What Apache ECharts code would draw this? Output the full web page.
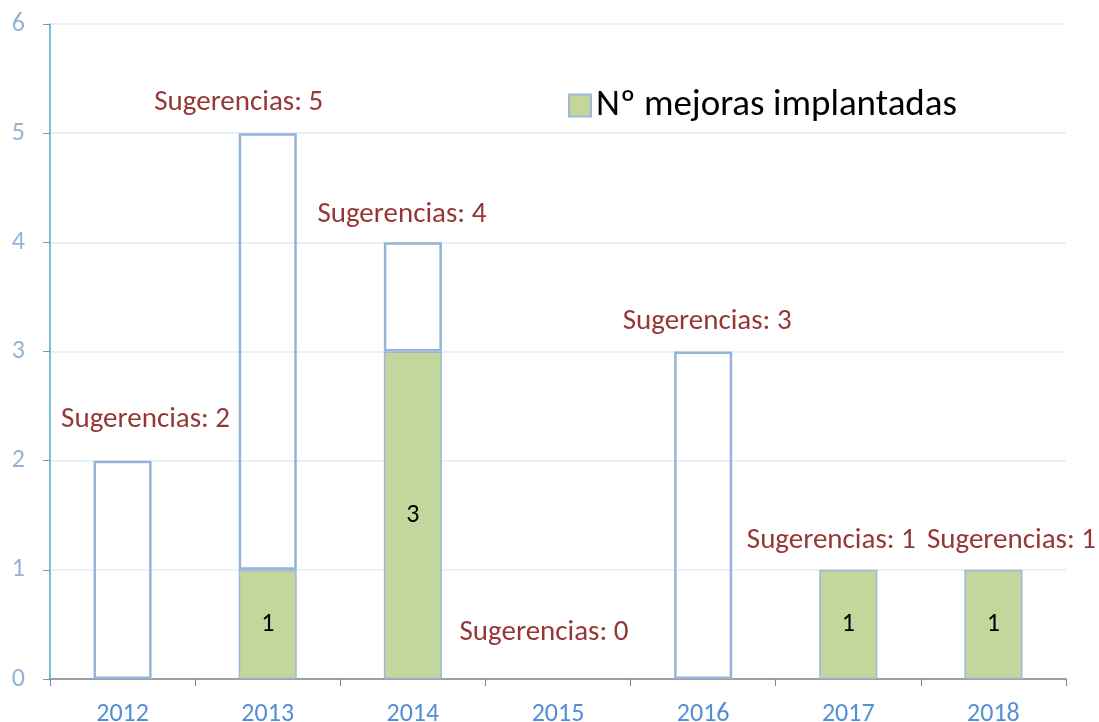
<!DOCTYPE html>
<html>
<head>
<meta charset="utf-8">
<script src="https://cdn.jsdelivr.net/npm/echarts@6/dist/echarts.min.js"></script>
<style>html,body{margin:0;padding:0;background:#fff}#c{width:1099px;height:722px}</style>
</head>
<body>
<div id="c"></div>
<script>
const years = ['2012','2013','2014','2015','2016','2017','2018'];
const sugerencias = [2, 5, 4, 0, 3, 1, 1];
const implantadas = [0, 1, 3, 0, 0, 1, 1];
const yTicks = [0, 1, 2, 3, 4, 5, 6];
const labelOffsets = [[23,-26],[-29,-15],[-11,-13],[-14,-31],[4,-15],[-17,-14],[18,-14]];

const FONT = 'Carlito, Lato, "Open Sans", sans-serif';
const remainder = sugerencias.map((s, i) => s - implantadas[i]);

const chart = echarts.init(document.getElementById('c'), null, {renderer: 'canvas'});
chart.setOption({
  animation: false,
  textStyle: {fontFamily: FONT},
  grid: {left: 50, right: 33, top: 24, bottom: 43, outerBoundsMode: 'none', containLabel: false},
  legend: {
    data: [{name: 'Nº mejoras implantadas', icon: 'rect'}],
    left: 563, top: 82,
    itemWidth: 22, itemHeight: 22, itemGap: 5,
    textStyle: {fontSize: 37, color: '#000', fontFamily: FONT}
  },
  xAxis: {
    type: 'category',
    data: years,
    axisLine: {lineStyle: {color: '#868686', width: 1.5}},
    axisTick: {show: true, length: 7, alignWithLabel: false, lineStyle: {color: '#868686'}},
    axisLabel: {color: '#558ED5', fontSize: 26, margin: 22, fontFamily: FONT}
  },
  yAxis: {
    type: 'value',
    min: yTicks[0], max: yTicks[yTicks.length - 1], interval: 1,
    axisLine: {show: true, lineStyle: {color: '#4BACC6', width: 1.5}},
    axisTick: {show: true, length: 7, lineStyle: {color: '#4BACC6'}},
    axisLabel: {color: '#95B3D7', fontSize: 26, margin: 25, fontFamily: FONT},
    splitLine: {lineStyle: {color: '#DDEFF6', width: 1.5}}
  },
  series: [
    {
      name: 'Nº mejoras implantadas',
      type: 'bar',
      stack: 'a',
      barWidth: '40%',
      data: implantadas.map(v => ({value: v, itemStyle: v === 0 ? {borderWidth: 0} : {}})),
      itemStyle: {color: '#C3D69B', borderColor: '#9DB7DB', borderWidth: 1.5},
      label: {
        show: true, position: 'inside', color: '#000', fontSize: 26, fontFamily: FONT,
        formatter: p => p.value > 0 ? String(p.value) : ''
      }
    },
    {
      name: 'Sugerencias',
      type: 'bar',
      stack: 'a',
      barWidth: '40%',
      data: remainder.map((v, i) => ({
        value: v,
        itemStyle: v === 0 ? {borderWidth: 0} : {},
        label: {offset: labelOffsets[i]}
      })),
      itemStyle: {color: 'rgba(255,255,255,0)', borderColor: '#95B3D7', borderWidth: 2.5},
      label: {
        show: true, position: 'top', distance: 0,
        color: '#953735', fontSize: 29, lineHeight: 30, fontFamily: FONT,
        formatter: p => 'Sugerencias: ' + sugerencias[p.dataIndex]
      }
    }
  ]
});
</script>
</body>
</html>
